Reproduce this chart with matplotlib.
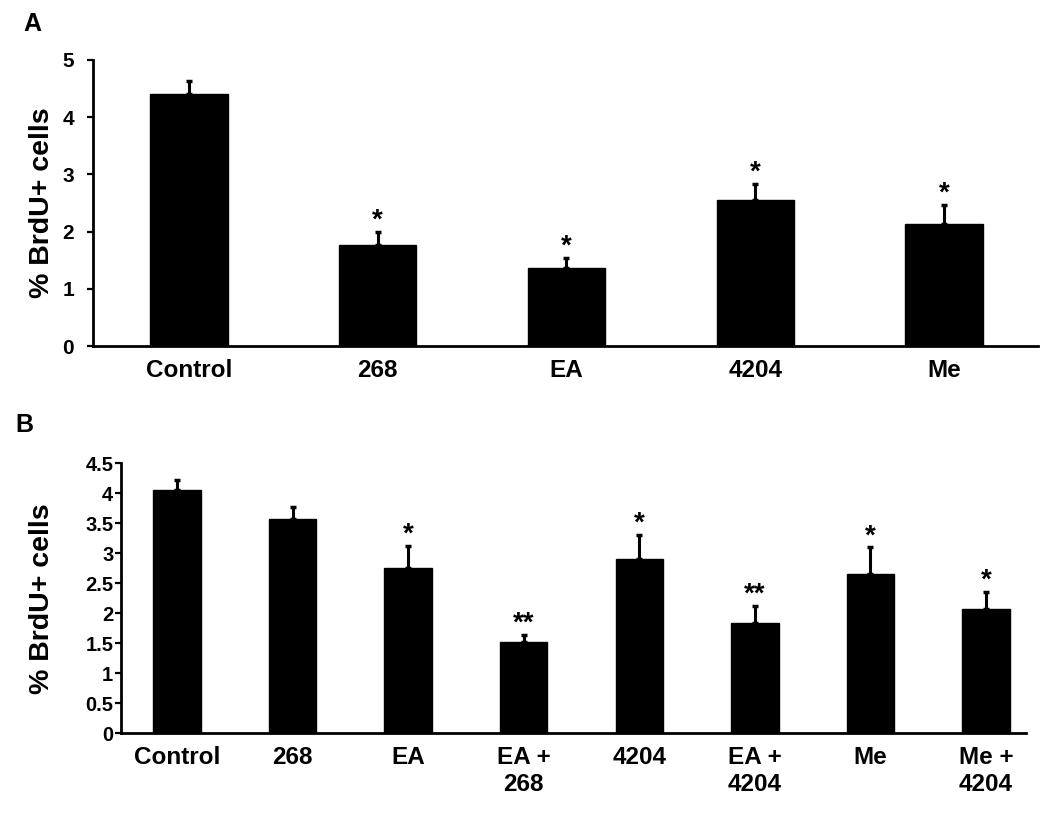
import matplotlib
matplotlib.use("Agg")
import matplotlib.pyplot as plt

plt.rcParams['font.family'] = ['Liberation Sans', 'DejaVu Sans']
plt.rcParams['font.weight'] = 'bold'

# panel A
labels_a = ["Control", "268", "EA", "4204", "Me"]
means_a = [4.40, 1.77, 1.37, 2.56, 2.14]
errs_a = [0.23, 0.22, 0.17, 0.28, 0.33]
stars_a = ["", "*", "*", "*", "*"]

# panel B
labels_b = ["Control", "268", "EA", "EA +\n268", "4204", "EA +\n4204", "Me", "Me +\n4204"]
means_b = [4.06, 3.58, 2.76, 1.53, 2.90, 1.84, 2.65, 2.07]
errs_b = [0.16, 0.20, 0.37, 0.11, 0.41, 0.28, 0.45, 0.29]
stars_b = ["", "", "*", "**", "*", "**", "*", "*"]


def draw_panel(ax, labels, means, errs, stars, ymax, yticks, ytick_size, ypad, xlim, label_x):
    x = list(range(len(labels)))
    ax.bar(x, means, width=0.41, color='black', edgecolor='black', zorder=2)
    ax.errorbar(x, means, yerr=[[0] * len(errs), errs], fmt='none', ecolor='black',
                elinewidth=2.2, capsize=2.5, capthick=2.5, zorder=3)
    for xi, m, e, s in zip(x, means, errs, stars):
        if s:
            ax.annotate(s, (xi, m + e), xytext=(0, 8), textcoords='offset points',
                        ha='center', va='center', fontsize=20, fontweight='bold')
    ax.set_xlim(*xlim)
    ax.set_ylim(0, ymax)
    ax.set_yticks(yticks)
    ax.set_yticklabels([("%g" % t) for t in yticks], fontsize=ytick_size, fontweight='bold')
    ax.set_xticks(x)
    ax.set_xticklabels(labels, fontsize=17.5, fontweight='bold')
    ax.tick_params(axis='x', length=0, pad=9)
    ax.tick_params(axis='y', direction='out', length=4, width=1.6, pad=ypad)
    for side in ['top', 'right']:
        ax.spines[side].set_visible(False)
    for side in ['left', 'bottom']:
        ax.spines[side].set_linewidth(2.0)
    ax.set_ylabel("% BrdU+ cells", fontsize=20.5, fontweight='bold', va='center')
    ax.yaxis.set_label_coords(label_x, 0.5)


fig = plt.figure(figsize=(10.5, 8.13), dpi=100)

ax_a = fig.add_axes([0.089, 0.5744, 0.8995, 0.3518])
draw_panel(ax_a, labels_a, means_a, errs_a, stars_a, 5, [0, 1, 2, 3, 4, 5], 15, 10,
           (-0.505, 4.497), -0.0545)

ax_b = fig.add_axes([0.1152, 0.0978, 0.8619, 0.3323])
draw_panel(ax_b, labels_b, means_b, errs_b, stars_b, 4.5,
           [0, 0.5, 1, 1.5, 2, 2.5, 3, 3.5, 4, 4.5], 14.5, 1.5, (-0.485, 7.346), -0.087)

fig.text(32 / 1050, 1 - 24 / 813, "A", fontsize=18, fontweight='bold', ha='center', va='center')
fig.text(24 / 1050, 1 - 424.5 / 813, "B", fontsize=18, fontweight='bold', ha='center', va='center')

fig.savefig("out.png", dpi=100)
